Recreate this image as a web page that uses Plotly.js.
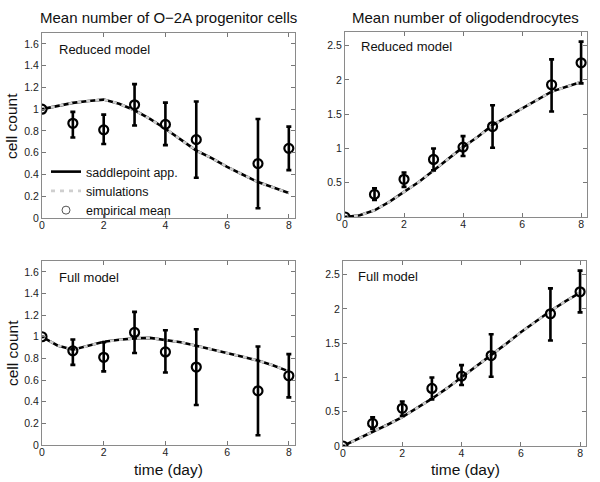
<!DOCTYPE html>
<html>
<head>
<meta charset="utf-8">
<script src="https://cdn.plot.ly/plotly-3.0.1.min.js"></script>
<style>html,body{margin:0;padding:0;background:#fff}#chart{width:600px;height:482px}</style>
</head>
<body>
<div id="chart"></div>
<script>
// Empirical data (days)
const days = [0, 1, 2, 3, 4, 5, 7, 8];
const o2aMean  = [1.00, 0.87, 0.81, 1.04, 0.86, 0.72, 0.50, 0.64];
const o2aUpper = [1.00, 0.975, 0.95, 1.23, 1.06, 1.07, 0.91, 0.84];
const o2aLower = [1.00, 0.74, 0.68, 0.85, 0.67, 0.37, 0.09, 0.44];
const oligMean  = [0.00, 0.33, 0.55, 0.84, 1.02, 1.32, 1.93, 2.25];
const oligUpper = [0.00, 0.42, 0.65, 1.00, 1.18, 1.63, 2.30, 2.56];
const oligLower = [0.00, 0.25, 0.44, 0.68, 0.89, 1.01, 1.54, 1.95];

// Model curves
const tModel = [0, 0.5, 1, 1.5, 2, 2.5, 3, 3.5, 4, 4.5, 5, 5.5, 6, 6.5, 7, 7.5, 8];
const o2aReducedSaddle = [1.00, 1.03, 1.058, 1.075, 1.088, 1.05, 0.99, 0.91, 0.82, 0.72, 0.62, 0.55, 0.47, 0.40, 0.33, 0.28, 0.23];
const o2aReducedSim    = [1.00, 1.03, 1.058, 1.075, 1.088, 1.05, 0.99, 0.91, 0.82, 0.72, 0.62, 0.55, 0.47, 0.40, 0.33, 0.28, 0.23];
const o2aFullSaddle = [1.00, 0.92, 0.88, 0.92, 0.954, 0.972, 0.985, 0.99, 0.97, 0.95, 0.917, 0.885, 0.85, 0.815, 0.78, 0.735, 0.68];
const o2aFullSim    = [1.00, 0.92, 0.88, 0.92, 0.954, 0.972, 0.985, 0.99, 0.97, 0.95, 0.917, 0.885, 0.85, 0.815, 0.78, 0.735, 0.68];
const oligReducedSaddle = [0.00, 0.025, 0.098, 0.22, 0.366, 0.51, 0.68, 0.85, 1.02, 1.17, 1.34, 1.46, 1.58, 1.71, 1.83, 1.90, 1.97];
const oligReducedSim    = [0.00, 0.025, 0.098, 0.22, 0.366, 0.51, 0.68, 0.85, 1.02, 1.17, 1.34, 1.46, 1.58, 1.71, 1.83, 1.90, 1.97];
const oligFullSaddle = [0.00, 0.10, 0.204, 0.31, 0.42, 0.55, 0.69, 0.84, 1.00, 1.16, 1.32, 1.49, 1.66, 1.82, 1.97, 2.11, 2.24];
const oligFullSim    = [0.00, 0.10, 0.204, 0.31, 0.42, 0.55, 0.69, 0.84, 1.00, 1.16, 1.32, 1.49, 1.66, 1.82, 1.97, 2.11, 2.24];

const xTicks = [0, 2, 4, 6, 8];
const panelTitles = ["Mean number of O\u22122A progenitor cells", "Mean number of oligodendrocytes"];
const modelLabels = ["Reduced model", "Full model"];
const legendNames = ["saddlepoint app.", "simulations", "empirical mean"];

const FONT = "Liberation Sans, Arial, Helvetica, sans-serif";

function errArrays(mean, up, lo) {
  return {
    plus: mean.map((m, i) => up[i] - m),
    minus: mean.map((m, i) => m - lo[i])
  };
}

const panels = [
  {xa: 'x', ya: 'y', saddle: o2aReducedSaddle, sim: o2aReducedSim, mean: o2aMean, up: o2aUpper, lo: o2aLower, legend: true},
  {xa: 'x2', ya: 'y2', saddle: oligReducedSaddle, sim: oligReducedSim, mean: oligMean, up: oligUpper, lo: oligLower, legend: false},
  {xa: 'x3', ya: 'y3', saddle: o2aFullSaddle, sim: o2aFullSim, mean: o2aMean, up: o2aUpper, lo: o2aLower, legend: false},
  {xa: 'x4', ya: 'y4', saddle: oligFullSaddle, sim: oligFullSim, mean: oligMean, up: oligUpper, lo: oligLower, legend: false}
];

const traces = [];
panels.forEach(p => {
  traces.push({
    x: tModel, y: p.saddle, xaxis: p.xa, yaxis: p.ya, type: 'scatter', mode: 'lines',
    name: legendNames[0], showlegend: p.legend,
    line: {color: '#000', width: 2.6}, hoverinfo: 'skip'
  });
  traces.push({
    x: tModel, y: p.sim, xaxis: p.xa, yaxis: p.ya, type: 'scatter', mode: 'lines',
    name: legendNames[1], showlegend: p.legend,
    line: {color: '#cfcfcf', width: 2.6, dash: '4px,5px'}, hoverinfo: 'skip'
  });
  const e = errArrays(p.mean, p.up, p.lo);
  traces.push({
    x: days, y: p.mean, xaxis: p.xa, yaxis: p.ya, type: 'scatter', mode: 'markers',
    name: legendNames[2], showlegend: false,
    marker: {symbol: 'circle-open', size: 9, color: '#000', line: {width: 2.2, color: '#000'}},
    error_y: {type: 'data', symmetric: false, array: e.plus, arrayminus: e.minus, color: '#000', thickness: 2.6, width: 2.5}
  });
  if (p.legend) {
    traces.push({
      x: [null], y: [null], xaxis: p.xa, yaxis: p.ya, type: 'scatter', mode: 'markers',
      name: legendNames[2], showlegend: true,
      marker: {symbol: 'circle-open', size: 8, color: '#555', line: {width: 1, color: '#555'}}
    });
  }
});

const W = 600, H = 482;
function xd(a, b) { return [a / W, b / W]; }
function yd(top, bottom) { return [1 - bottom / H, 1 - top / H]; }

function xAxis(dom, anchor) {
  return {
    domain: dom, anchor: anchor, range: [0, 8.2], tickvals: xTicks, ticks: 'inside', ticklen: 4,
    tickcolor: '#777', showline: true, linecolor: '#8a8a8a', linewidth: 1, mirror: 'ticks',
    showgrid: false, zeroline: false, ticklabelstandoff: -3,
    tickfont: {family: FONT, size: 10.5, color: '#222'}
  };
}
function yAxis(dom, anchor, range, dtick) {
  return {
    domain: dom, anchor: anchor, range: range, dtick: dtick, tick0: 0, ticks: 'inside', ticklen: 4,
    tickcolor: '#777', showline: true, linecolor: '#8a8a8a', linewidth: 1, mirror: 'ticks',
    showgrid: false, zeroline: false, tickfont: {family: FONT, size: 10.5, color: '#222'}
  };
}

const layout = {
  width: W, height: H,
  margin: {l: 0, r: 0, t: 0, b: 0},
  paper_bgcolor: '#fff', plot_bgcolor: '#fff',
  font: {family: FONT, color: '#111'},
  showlegend: true,
  legend: {
    x: 46 / W, y: 1 - 157 / H, xanchor: 'left', yanchor: 'top',
    bgcolor: 'rgba(0,0,0,0)', borderwidth: 0,
    font: {family: FONT, size: 12.5, color: '#111'},
    tracegroupgap: 0, itemwidth: 30
  },
  xaxis: xAxis(xd(42, 295), 'y'),
  yaxis: yAxis(yd(33, 218), 'x', [0, 1.7], 0.2),
  xaxis2: xAxis(xd(345, 587), 'y2'),
  yaxis2: yAxis(yd(32, 217), 'x2', [0, 2.7], 0.5),
  xaxis3: xAxis(xd(42, 295), 'y3'),
  yaxis3: yAxis(yd(261, 445), 'x3', [0, 1.7], 0.2),
  xaxis4: xAxis(xd(343, 586), 'y4'),
  yaxis4: yAxis(yd(261, 446), 'x4', [0, 2.7], 0.5),
  annotations: [
    {text: panelTitles[0], xref: 'paper', yref: 'paper', x: 168.5 / W, y: 1 - 18 / H, xanchor: 'center', yanchor: 'middle', showarrow: false, font: {family: FONT, size: 15, color: '#111'}},
    {text: panelTitles[1], xref: 'paper', yref: 'paper', x: 466 / W, y: 1 - 18 / H, xanchor: 'center', yanchor: 'middle', showarrow: false, font: {family: FONT, size: 15, color: '#111'}},
    {text: modelLabels[0], xref: 'paper', yref: 'paper', x: 57 / W, y: 1 - 50 / H, xanchor: 'left', yanchor: 'middle', showarrow: false, font: {family: FONT, size: 13, color: '#111'}},
    {text: modelLabels[0], xref: 'paper', yref: 'paper', x: 359 / W, y: 1 - 46 / H, xanchor: 'left', yanchor: 'middle', showarrow: false, font: {family: FONT, size: 13, color: '#111'}},
    {text: modelLabels[1], xref: 'paper', yref: 'paper', x: 57 / W, y: 1 - 277 / H, xanchor: 'left', yanchor: 'middle', showarrow: false, font: {family: FONT, size: 13, color: '#111'}},
    {text: modelLabels[1], xref: 'paper', yref: 'paper', x: 356 / W, y: 1 - 276 / H, xanchor: 'left', yanchor: 'middle', showarrow: false, font: {family: FONT, size: 13, color: '#111'}},
    {text: 'cell count', xref: 'paper', yref: 'paper', x: 12 / W, y: 1 - 126 / H, xanchor: 'center', yanchor: 'middle', textangle: -90, showarrow: false, font: {family: FONT, size: 15.5, color: '#111'}},
    {text: 'cell count', xref: 'paper', yref: 'paper', x: 12 / W, y: 1 - 353 / H, xanchor: 'center', yanchor: 'middle', textangle: -90, showarrow: false, font: {family: FONT, size: 15.5, color: '#111'}},
    {text: 'time (day)', xref: 'paper', yref: 'paper', x: 168 / W, y: 1 - 469 / H, xanchor: 'center', yanchor: 'middle', showarrow: false, font: {family: FONT, size: 15.5, color: '#111'}},
    {text: 'time (day)', xref: 'paper', yref: 'paper', x: 465 / W, y: 1 - 469 / H, xanchor: 'center', yanchor: 'middle', showarrow: false, font: {family: FONT, size: 15.5, color: '#111'}}
  ]
};

Plotly.newPlot('chart', traces, layout, {staticPlot: true, displayModeBar: false});
</script>
</body>
</html>
